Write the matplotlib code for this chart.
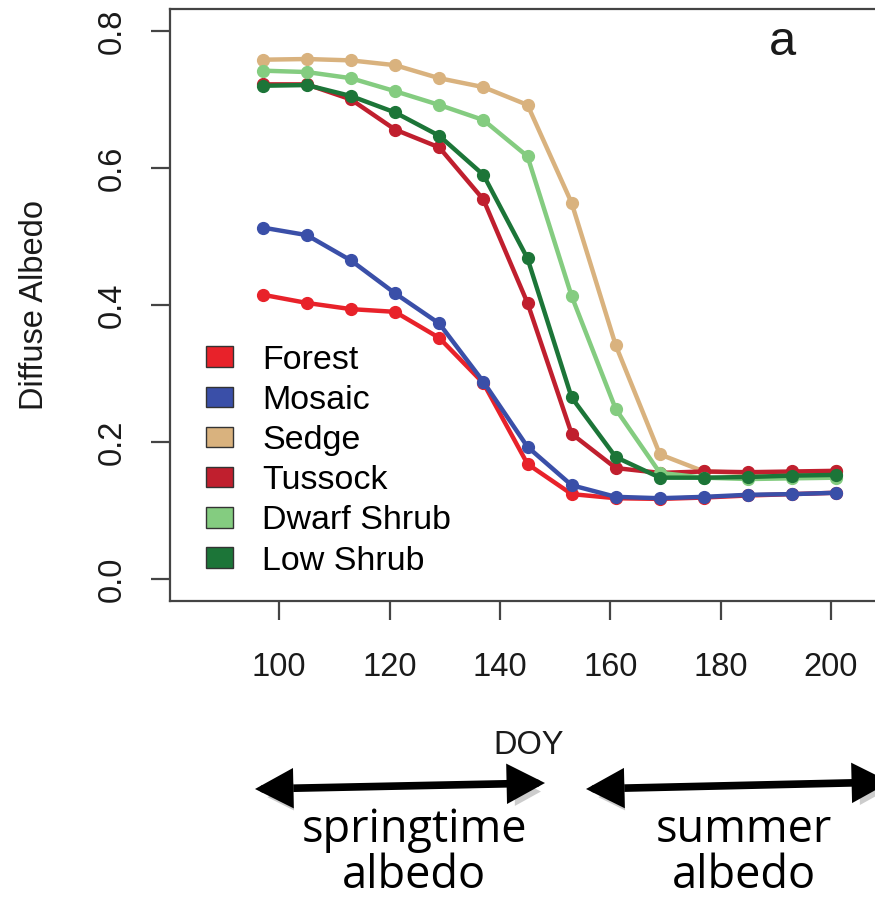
import matplotlib
matplotlib.use('Agg')
import matplotlib.pyplot as plt
import matplotlib.patheffects as pe
from matplotlib.patches import Patch

plt.rcParams['font.family'] = ['Liberation Sans', 'DejaVu Sans']

doy = [97, 105, 113, 121, 129, 137, 145, 153, 161, 169, 177, 185, 193, 201]
forest = [0.415, 0.403, 0.394, 0.390, 0.352, 0.286, 0.168, 0.124, 0.118, 0.117, 0.119, 0.122, 0.124, 0.126]
mosaic = [0.513, 0.502, 0.465, 0.417, 0.373, 0.288, 0.193, 0.137, 0.120, 0.118, 0.120, 0.123, 0.124, 0.126]
sedge = [0.758, 0.759, 0.757, 0.750, 0.731, 0.718, 0.692, 0.549, 0.341, 0.182, 0.157, 0.155, 0.156, 0.157]
tussock = [0.722, 0.722, 0.700, 0.656, 0.630, 0.554, 0.403, 0.212, 0.162, 0.155, 0.157, 0.156, 0.157, 0.158]
dwarf_shrub = [0.742, 0.740, 0.731, 0.712, 0.692, 0.670, 0.617, 0.413, 0.248, 0.155, 0.148, 0.146, 0.147, 0.148]
low_shrub = [0.720, 0.721, 0.705, 0.681, 0.647, 0.590, 0.468, 0.265, 0.178, 0.148, 0.148, 0.149, 0.151, 0.152]

names = ['Forest', 'Mosaic', 'Sedge', 'Tussock', 'Dwarf Shrub', 'Low Shrub']
series = [forest, mosaic, sedge, tussock, dwarf_shrub, low_shrub]
colors = ['#E8222A', '#3A4FA8', '#D9B27E', '#C01F2E', '#84CC80', '#1C7538']

x_ticks = [100, 120, 140, 160, 180, 200]
y_ticks = [0.0, 0.2, 0.4, 0.6, 0.8]

W, H = 875, 902
fig = plt.figure(figsize=(W / 100, H / 100), dpi=100)
# axes box in pixels: left 170, right 885 (cut by the figure edge), top 9, bottom 601
ax = fig.add_axes([170 / W, 1 - 601 / H, 715 / W, 592 / H])

for vals, c in zip(series, colors):
    ax.plot(doy, vals, color=c, lw=3.2, marker='o', ms=8.5, mec=c, mfc=c)

ax.set_xlim(80.2, 209.8)
ax.set_ylim(-0.032, 0.832)
ax.set_xticks(x_ticks)
ax.set_yticks(y_ticks)
ax.set_yticklabels(['%.1f' % v for v in y_ticks])
frame_c = '#444444'
for s in ax.spines.values():
    s.set_color(frame_c)
    s.set_linewidth(1.6)
ax.tick_params(axis='both', direction='out', length=13.5, width=1.6, color=frame_c,
               labelsize=23.5, labelcolor='#1a1a1a')
ax.tick_params(axis='x', pad=23)
ax.tick_params(axis='y', pad=17, labelrotation=90)
for t in ax.get_yticklabels():
    t.set_va('center')

ax.set_xlabel('DOY', fontsize=23.5, color='#1a1a1a', va='center')
ax.set_ylabel('Diffuse Albedo', fontsize=23.5, color='#1a1a1a', va='center')
ax.xaxis.set_label_coords(0.502, (601 - 745) / 592)
ax.yaxis.set_label_coords((35 - 170) / 715, 0.5)

ax.text(0.857, 0.944, 'a', transform=ax.transAxes, fontsize=35, ha='center', va='center',
        color='#1a1a1a')

handles = [Patch(facecolor=c, edgecolor='#333333', lw=1.0) for c in colors]
ax.legend(handles, names, loc='upper left', bbox_to_anchor=(0.0503, 0.433),
          frameon=False, fontsize=24.5, handlelength=0.8, handleheight=0.55,
          handletextpad=0.85, labelspacing=0.27, borderpad=0, borderaxespad=0)

# arrows below the plot (figure pixels, origin bottom left)
shadow = [pe.SimplePatchShadow(offset=(3, -6), shadow_rgbFace='#aaaaaa', alpha=0.6), pe.Normal()]
arrow_style = '<|-|>,head_length=0.95,head_width=0.5'
for (x0, y0), (x1, y1) in [((255, 789), (545, 783)), ((586, 789), (890, 782))]:
    ax.annotate('', xy=(x1, H - y1), xytext=(x0, H - y0), xycoords='figure pixels',
                textcoords='figure pixels', annotation_clip=False,
                arrowprops=dict(arrowstyle=arrow_style, lw=5.5, color='black',
                                mutation_scale=20, shrinkA=0, shrinkB=0,
                                joinstyle='miter', path_effects=shadow))

# arrow captions, one text per line, placed on their baselines
for cx, lines in [(414, ['springtime', 'albedo']), (744, ['summer', 'albedo'])]:
    for base_y, line in zip([842, 888], lines):
        fig.text(cx / W, 1 - base_y / H, line, fontsize=32.5, family='Open Sans',
                 ha='center', va='baseline')

fig.savefig('out.png', dpi=100)
